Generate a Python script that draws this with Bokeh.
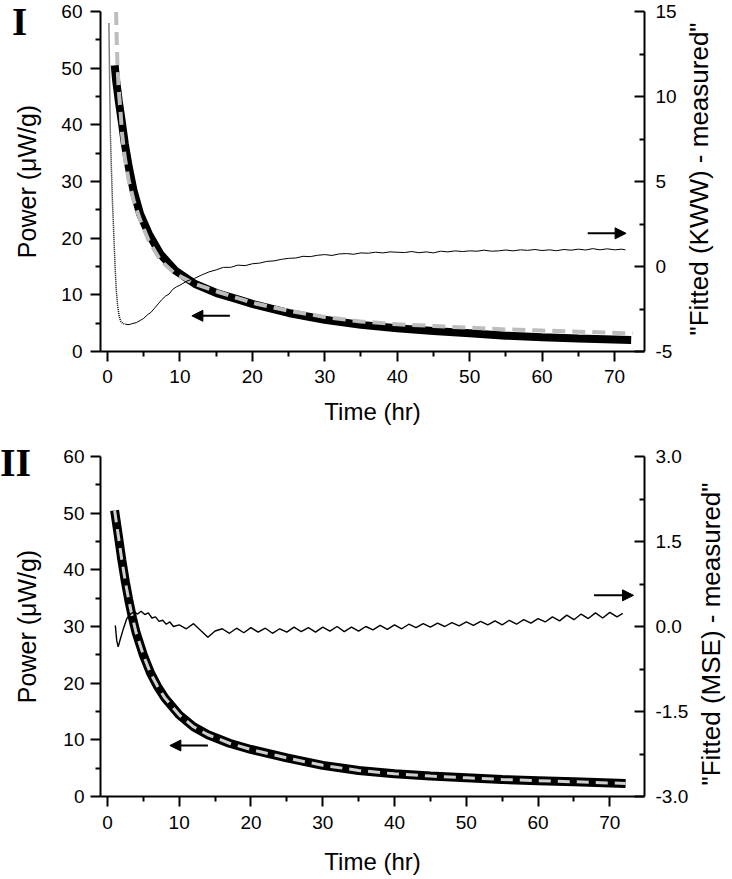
import math
from bokeh.plotting import figure
from bokeh.models import (LinearAxis, Range1d, FixedTicker, Arrow, NormalHead,
                          PrintfTickFormatter, Div)
from bokeh.layouts import column
from bokeh.embed import file_html
from bokeh.resources import INLINE

# ---------------- data ----------------
x_ticks = [0, 10, 20, 30, 40, 50, 60, 70]
x_minor = [5, 15, 25, 35, 45, 55, 65]
power_ticks = [0, 10, 20, 30, 40, 50, 60]
power_minor = [5, 15, 25, 35, 45, 55]
res1_ticks = [-5, 0, 5, 10, 15]
res1_minor = [-2.5, 2.5, 7.5, 12.5]
res2_ticks = [-3.0, -1.5, 0.0, 1.5, 3.0]
res2_minor = [-2.25, -0.75, 0.75, 2.25]

# Panel I : measured power (thick black) and KWW fit (grey dashed)
t1_meas = [1.0, 1.2, 1.55, 1.95, 2.4, 2.95, 3.6, 4.5, 5.7, 7.3, 9.35, 12.1, 15.3,
           18, 20, 25, 30, 35, 40, 45, 50, 55, 60, 65, 72.3]
p1_meas = [50.5, 47.8, 44.3, 40.8, 36.6, 32.5, 28.4, 24.3, 20.8, 17.2, 14.3, 11.9, 10.2,
           9.2, 8.4, 6.8, 5.6, 4.7, 4.1, 3.6, 3.2, 2.8, 2.5, 2.3, 2.05]
t1_kww = [1.19, 1.28, 1.38, 1.56, 1.79, 2.02, 2.38, 2.93, 3.62, 4.54, 5.68, 7.29, 9.35,
          12.1, 15.3, 20, 25, 30, 35, 40, 45, 50, 55, 60, 65, 72.5]
p1_kww = [59.9, 54.9, 50.5, 46.1, 42.5, 38.4, 34.3, 30.2, 26.6, 23.1, 19.6, 16.1, 13.7,
          11.9, 10.5, 8.6, 7.2, 6.1, 5.3, 4.8, 4.5, 4.2, 3.9, 3.7, 3.5, 3.2]
# Panel I : residual "Fitted (KWW) - measured"
t1_res_early = [0.2, 0.3, 0.4, 0.55, 0.7, 0.87, 1.05, 1.2, 1.4, 1.6, 1.8, 2.1, 2.5]
r1_res_early = [14.3, 10.8, 7.8, 5.6, 3.7, 1.9, 0.0, -1.3, -2.3, -2.9, -3.2, -3.35, -3.4]
t1_res = [2.5, 3, 3.5, 4, 4.5, 5, 5.5, 6, 6.5, 7, 7.5, 8, 8.5, 9, 9.5, 10, 11, 12, 13, 14,
          15, 16, 17, 18, 19, 20, 21, 22, 23, 24, 25, 26, 27, 28, 29, 30, 31, 32, 33, 34,
          35, 36, 37, 38, 39, 40, 41, 42, 43, 44, 45, 46, 47, 48, 49, 50, 51, 52, 53, 54,
          55, 56, 57, 58, 59, 60, 61, 62, 63, 64, 65, 66, 67, 68, 69, 70, 71, 71.5]
r1_res = [-3.4, -3.42, -3.35, -3.3, -3.18, -3.05, -2.85, -2.7, -2.45, -2.2, -1.95, -1.75,
          -1.62, -1.35, -1.2, -1.1, -0.85, -0.7, -0.5, -0.32, -0.2, -0.05, -0.05, 0.08,
          0.05, 0.16, 0.2, 0.3, 0.33, 0.42, 0.48, 0.5, 0.6, 0.58, 0.66, 0.7, 0.65, 0.74,
          0.76, 0.72, 0.8, 0.78, 0.84, 0.8, 0.86, 0.84, 0.82, 0.88, 0.81, 0.86, 0.8, 0.9,
          0.86, 0.92, 0.88, 0.92, 0.9, 0.96, 0.9, 0.92, 0.97, 0.92, 0.98, 0.95, 1.0, 0.94,
          0.98, 0.93, 1.0, 0.96, 1.02, 0.97, 1.05, 0.98, 1.04, 0.98, 1.02, 0.98]

# Panel II : measured power (thick black) and MSE fit (grey dashed)
t2_meas = [1.0, 1.5, 2.0, 2.5, 3.0, 3.5, 4.0, 5.0, 6.0, 7.0, 8.0, 10, 12, 14, 17, 20,
           25, 30, 35, 40, 45, 50, 55, 60, 65, 72.2]
p2_meas = [50.5, 46.2, 41.8, 37.9, 34.5, 31.5, 28.9, 25.0, 21.8, 19.4, 17.4, 14.4, 12.3,
           10.9, 9.4, 8.3, 6.8, 5.5, 4.6, 4.0, 3.6, 3.3, 3.0, 2.8, 2.6, 2.3]
t2_mse = [1.0, 1.5, 2.0, 2.5, 3.0, 3.5, 4.0, 5.0, 6.0, 7.0, 8.0, 10, 12, 14, 17, 20,
          25, 30, 35, 40, 45, 50, 55, 60, 65, 72.2]
p2_mse = [50.5, 46.2, 41.8, 37.9, 34.5, 31.5, 28.9, 25.0, 21.8, 19.4, 17.4, 14.4, 12.3,
          10.9, 9.4, 8.3, 6.8, 5.5, 4.6, 4.0, 3.6, 3.3, 3.0, 2.8, 2.6, 2.3]
# Panel II : residual "Fitted (MSE) - measured"
t2_res = [1.1, 1.3, 1.5, 1.8, 2.2, 2.7, 3.2, 3.7, 4.2, 4.7, 5.2, 5.7, 6.2, 6.7, 7.2, 7.7,
          8.2, 8.7, 9.2, 10, 11, 12, 13, 14, 15, 16, 17, 18, 19, 20, 21, 22, 23, 24, 25,
          26, 27, 28, 29, 30, 31, 32, 33, 34, 35, 36, 37, 38, 39, 40, 41, 42, 43, 44, 45,
          46, 47, 48, 49, 50, 51, 52, 53, 54, 55, 56, 57, 58, 59, 60, 61, 62, 63, 64, 65,
          66, 67, 68, 69, 70, 71, 71.8]
r2_res = [0.02, -0.25, -0.36, -0.22, -0.05, 0.14, 0.22, 0.26, 0.22, 0.27, 0.21, 0.24,
          0.15, 0.17, 0.09, 0.11, 0.04, 0.08, 0.0, 0.03, -0.04, 0.05, -0.07, -0.19, -0.08,
          -0.04, -0.12, -0.03, -0.11, -0.02, -0.1, -0.03, -0.12, -0.04, -0.1, -0.01, -0.09,
          -0.02, -0.1, -0.01, -0.08, 0.0, -0.09, -0.01, -0.08, 0.0, -0.06, 0.02, -0.05,
          0.03, -0.04, 0.04, -0.02, 0.05, -0.01, 0.06, 0.0, 0.07, 0.01, 0.08, 0.02, 0.09,
          0.03, 0.1, 0.03, 0.11, 0.04, 0.12, 0.06, 0.14, 0.08, 0.17, 0.1, 0.2, 0.12, 0.22,
          0.14, 0.24, 0.15, 0.25, 0.17, 0.23]

panel_names = ["I", "II"]
res_titles = ['"Fitted (KWW) - measured"', '"Fitted (MSE) - measured"']

FONT = "Liberation Sans"


def style_axis(ax, ticks, minor, label, label_size, inward=False,
               lab_standoff=8, axlab_standoff=10, fmt=None):
    ax.ticker = FixedTicker(ticks=ticks, minor_ticks=minor)
    if fmt is not None:
        ax.formatter = fmt
    ax.axis_line_width = 2
    ax.axis_line_color = "black"
    ax.major_tick_line_width = 2
    ax.minor_tick_line_width = 2
    ax.major_tick_line_color = "black"
    ax.minor_tick_line_color = "black"
    if inward:
        ax.major_tick_in, ax.major_tick_out = 10, 0
        ax.minor_tick_in, ax.minor_tick_out = 5, 0
    else:
        ax.major_tick_in, ax.major_tick_out = 0, 10
        ax.minor_tick_in, ax.minor_tick_out = 0, 5
    ax.major_label_text_font = FONT
    ax.major_label_text_font_size = "19px"
    ax.major_label_text_color = "black"
    ax.major_label_standoff = lab_standoff
    ax.axis_label = label
    ax.axis_label_text_font = FONT
    ax.axis_label_text_font_size = label_size
    ax.axis_label_text_font_style = "normal"
    ax.axis_label_text_color = "black"
    ax.axis_label_standoff = axlab_standoff


def make_panel(height, bl, br, bt, bb, x_end, res_range, res_ticks, res_minor, res_fmt,
               left_lab_standoff, left_ax_standoff, bot_lab_standoff, bot_ax_standoff):
    p = figure(width=732, height=height, x_range=Range1d(-0.963, x_end),
               y_range=Range1d(0, 60), output_backend="svg", toolbar_location=None,
               min_border_left=bl, min_border_right=br, min_border_top=bt,
               min_border_bottom=bb, outline_line_color=None,
               background_fill_color="white", border_fill_color="white")
    p.grid.visible = False
    p.extra_y_ranges = {"res": Range1d(*res_range)}
    style_axis(p.xaxis[0], x_ticks, x_minor, "Time (hr)", "24px",
               lab_standoff=bot_lab_standoff, axlab_standoff=bot_ax_standoff)
    style_axis(p.yaxis[0], power_ticks, power_minor, "Power (\u03bcW/g)", "25px",
               lab_standoff=left_lab_standoff, axlab_standoff=left_ax_standoff,
               fmt=PrintfTickFormatter(format="%d"))
    rax = LinearAxis(y_range_name="res")
    style_axis(rax, res_ticks, res_minor, None, "25px", inward=True,
               lab_standoff=11, axlab_standoff=0, fmt=res_fmt)
    p.add_layout(rax, "right")
    return p


def text_div(html, left, top, w, h, rotate=False):
    st = {"position": "absolute", "left": f"{left}px", "top": f"{top}px",
          "z-index": "10", "overflow": "visible", "pointer-events": "none"}
    if rotate:
        st["transform"] = "rotate(-90deg)"
        st["transform-origin"] = "50% 50%"
    return Div(text=html, width=w, height=h, styles=st)


def side_title(text, cx, cy):
    w, h = 340, 30
    html = ('<div style="font-family:\'Liberation Sans\',Arial,sans-serif;font-size:26px;'
            'line-height:30px;white-space:nowrap;text-align:center;width:340px;'
            'color:black;margin:0;padding:0">' + text + '</div>')
    return text_div(html, cx - w / 2, cy - h / 2, w, h, rotate=True)


def panel_tag(text, size, left, top, lh):
    html = ('<div style="font-family:\'Liberation Serif\',\'Times New Roman\',serif;'
            'font-weight:bold;font-size:%dpx;line-height:%dpx;white-space:nowrap;'
            'color:black;margin:0;padding:0">%s</div>' % (size, lh, text))
    return text_div(html, left, top, 60, lh)


# ---------------- Panel I ----------------
p1 = make_panel(440, 100, 86, 11, 89, 74.14, (-5, 15), res1_ticks, res1_minor,
                PrintfTickFormatter(format="%d"), 8, 17, 8, 12)
p1.line(t1_meas, p1_meas, line_color="black", line_width=8)
p1.line(t1_kww, p1_kww, line_color="#bdbdbd", line_width=4, line_dash="13 7")
p1.line(t1_res_early, r1_res_early, y_range_name="res", line_color="black",
        line_width=1.5, line_dash="1 1")
p1.line(t1_res, r1_res, y_range_name="res", line_color="black", line_width=1)
p1.add_layout(Arrow(end=NormalHead(size=11, fill_color="black", line_color="black"),
                    x_start=16.9, y_start=6.3, x_end=11.65, y_end=6.3,
                    line_width=2, line_color="black"))
p1.add_layout(Arrow(end=NormalHead(size=11, fill_color="black", line_color="black"),
                    x_start=66.3, y_start=1.95, x_end=71.6, y_end=1.95,
                    y_range_name="res", line_width=2, line_color="black"))

# ---------------- Panel II ----------------
p2 = make_panel(439, 93, 88, 16, 83, 74.83, (-3, 3), res2_ticks, res2_minor,
                PrintfTickFormatter(format="%.1f"), 6, 19, 9, 16)
p2.line(t2_meas, p2_meas, line_color="black", line_width=9)
p2.line(t2_mse, p2_mse, line_color="#cfcfcf", line_width=3, line_dash="12 7")
p2.line(t2_res, r2_res, y_range_name="res", line_color="black", line_width=1.4)
p2.add_layout(Arrow(end=NormalHead(size=11, fill_color="black", line_color="black"),
                    x_start=14.0, y_start=9.0, x_end=8.7, y_end=9.0,
                    line_width=2, line_color="black"))
p2.add_layout(Arrow(end=NormalHead(size=11, fill_color="black", line_color="black"),
                    x_start=67.8, y_start=0.55, x_end=73.3, y_end=0.55,
                    y_range_name="res", line_width=2, line_color="black"))

# texts that sit outside the plotting frames
tag1 = panel_tag(panel_names[0], 39, 7, 2, 30)
tag2 = panel_tag(panel_names[1], 40, -5, 443, 30)
rt1 = side_title(res_titles[0], 694, 174)
rt2 = side_title(res_titles[1], 706, 629)

layout = column(p1, p2, tag1, tag2, rt1, rt2, spacing=0)
open("out.html", "w").write(file_html(layout, INLINE))
